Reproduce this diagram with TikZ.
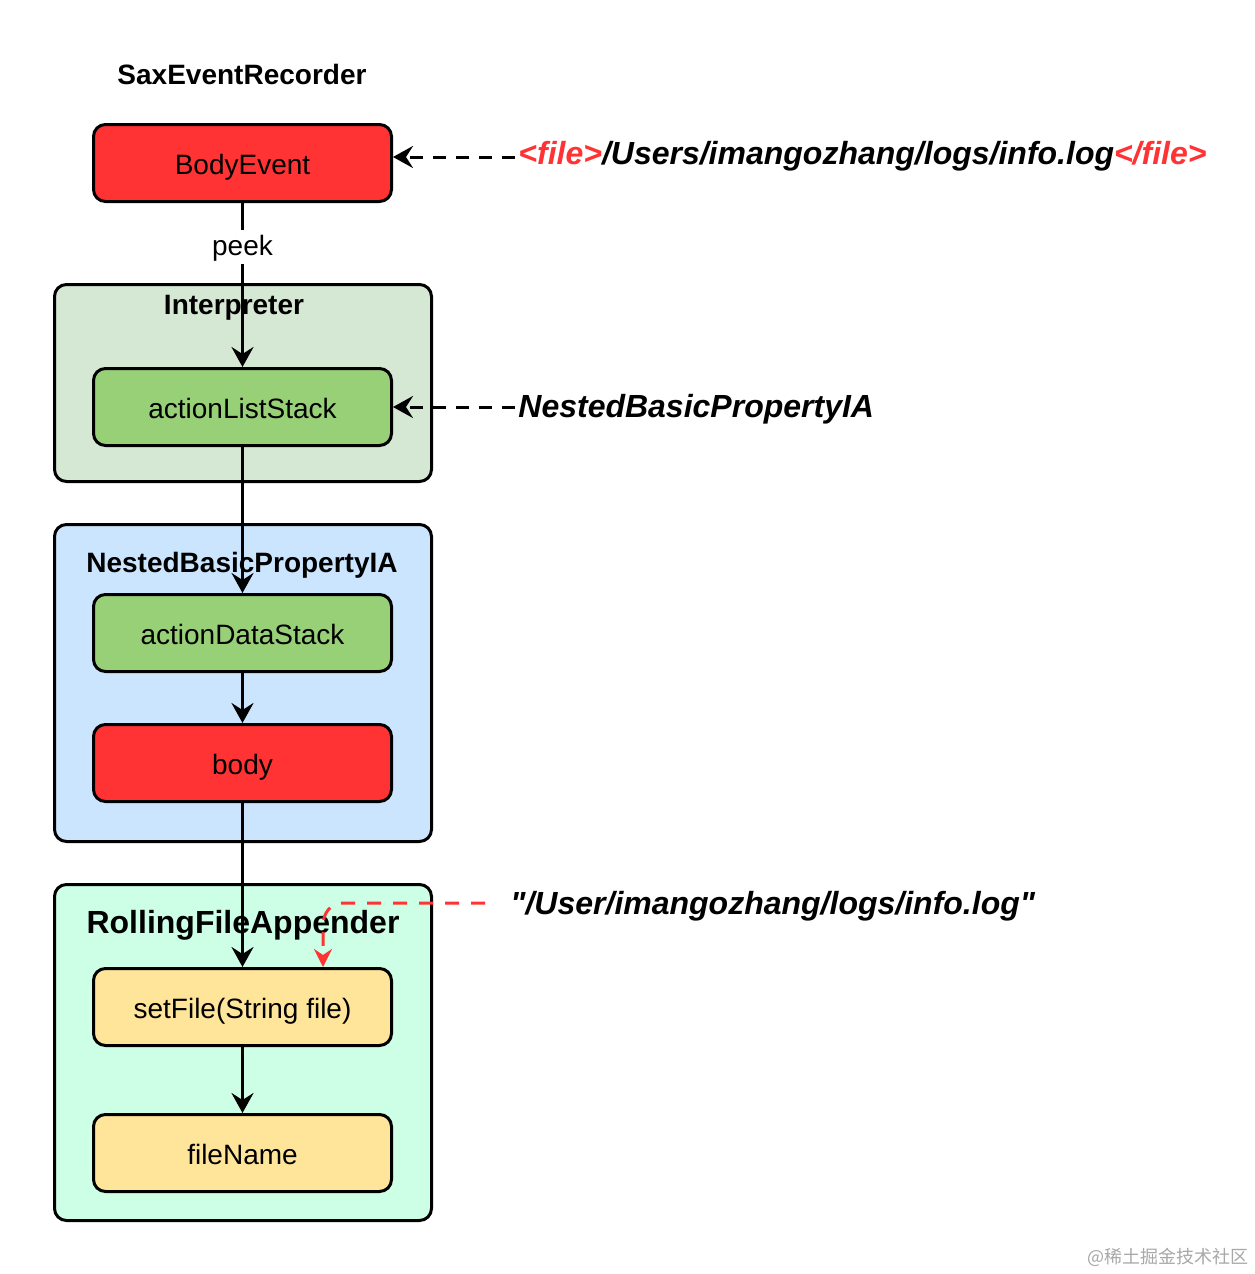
\documentclass[tikz,border=0pt]{standalone}
\usepackage{fontspec}
\setmainfont{Liberation Sans}[Ligatures=TeXOff]
\newfontfamily\cjk{Noto Sans CJK SC}
\usetikzlibrary{arrows.meta}
\definecolor{cred}{HTML}{FF3333}
\definecolor{cgreen}{HTML}{97D077}
\definecolor{cinterp}{HTML}{D5E8D4}
\definecolor{cblue}{HTML}{CCE5FF}
\definecolor{cmint}{HTML}{CCFFE6}
\definecolor{cyellow}{HTML}{FFE599}
\definecolor{cwater}{HTML}{A8A8A8}
\begin{document}
\begin{tikzpicture}[x=0.5pt,y=-0.5pt,
  box/.style={draw, line width=1.5pt, rounded corners=6pt, minimum width=149pt, minimum height=38.5pt, inner sep=0pt, text height=13pt, text depth=2pt, font=\fontsize{14}{16}\selectfont},
  cont/.style={draw, line width=1.5pt, rounded corners=6pt, inner sep=0pt},
  ctitle/.style={font=\fontsize{14}{16}\selectfont\bfseries, inner sep=0pt, anchor=base},
  biglabel/.style={font=\fontsize{16}{18}\selectfont\bfseries\itshape, inner sep=0pt, anchor=base west},
  conn/.style={line width=1.5pt, -{Stealth[length=10pt,width=11pt,inset=3.5pt]}},
  dashconn/.style={line width=1.5pt, dash pattern=on 6.5pt off 5pt, -{Stealth[length=10pt,width=11pt,inset=3.5pt]}},
  reddash/.style={cred, line width=1.5pt, dash pattern=on 7pt off 6pt, -{Stealth[length=9pt,width=9pt,inset=3pt]}}
]
\path[use as bounding box, fill=white] (0,0) rectangle (1254,1274);

% containers
\node[cont, fill=cinterp, minimum width=188.5pt, minimum height=98.5pt] (interp) at (243,383) {};
\node[cont, fill=cblue, minimum width=188.5pt, minimum height=158.5pt] (nested) at (243,683) {};
\node[cont, fill=cmint, minimum width=188.5pt, minimum height=168pt] (rolling) at (243,1052.5) {};

% titles
\node[ctitle] (ttop) at (242,84) {SaxEventRecorder};
\node[ctitle] (tinterp) at (234,314) {Interpreter};
\node[ctitle] (tnested) at (242,572) {NestedBasicPropertyIA};
\node[ctitle, font=\fontsize{16}{18}\selectfont\bfseries] (trolling) at (243,933) {RollingFileAppender};

% boxes
\node[box, fill=cred] (bodyevent) at (242.5,163) {BodyEvent};
\node[box, fill=cgreen] (als) at (242.5,407) {actionListStack};
\node[box, fill=cgreen] (ads) at (242.5,633) {actionDataStack};
\node[box, fill=cred] (body) at (242.5,763) {body};
\node[box, fill=cyellow] (setfile) at (242.5,1007) {setFile(String file)};
\node[box, fill=cyellow] (filename) at (242.5,1153) {fileName};

% main connectors
\draw[conn] (bodyevent) -- node[pos=0.27, fill=white, inner sep=1.5pt, text height=11pt, text depth=3pt, font=\fontsize{14}{16}\selectfont] {peek} (als);
\draw[conn] (als) -- (ads);
\draw[conn] (ads) -- (body);
\draw[conn] (body) -- (setfile);
\draw[conn] (setfile) -- (filename);

% side labels
\node[biglabel] (lbl1) at (518,164) {{\color{cred}<file>}/Users/imangozhang/logs/info.log{\color{cred}</file>}};
\node[biglabel] (lbl2) at (518,417) {NestedBasicPropertyIA};
\node[biglabel] (lbl3) at (510,914) {"/User/imangozhang/logs/info.log"};

\coordinate (d1) at (515,157);
\coordinate (d2) at (515,407);
\draw[dashconn] (d1) -- (d1 -| bodyevent.east);
\draw[dashconn] (d2) -- (d2 -| als.east);

\coordinate (r1) at (485,903);
\coordinate (r2) at (323,925);
\draw[reddash] (r1) -- (342,903) to[out=180,in=90] (r2) -- (r2 |- setfile.north);

% watermark
\node[inner sep=0pt, text=cwater, font=\cjk\fontsize{9}{10}\selectfont] (wm) at (1168,1257) {@稀土掘金技术社区};
\end{tikzpicture}
\end{document}
